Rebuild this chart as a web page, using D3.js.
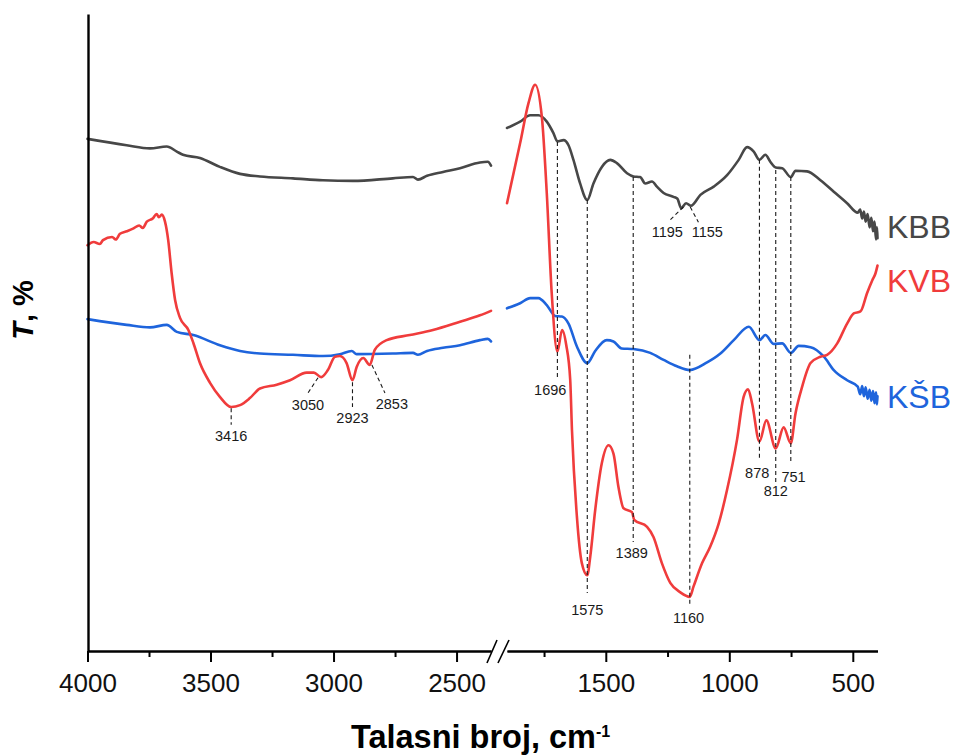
<!DOCTYPE html>
<html>
<head>
<meta charset="utf-8">
<script src="https://cdn.jsdelivr.net/npm/d3@7"></script>
<style>
  body { margin: 0; background: #fff; }
  svg { display: block; }
  text { font-family: "Liberation Sans", Arial, sans-serif; }
</style>
</head>
<body>
<svg id="chart" width="957" height="756"></svg>
<script>
// FTIR spectra: [wavenumber (cm-1), transmittance (offset, a.u.)]
const kbb = [
  [4000,80.4],[3841,79.4],[3746,78.9],[3678,79.2],[3637,78.4],[3612,77.9],[3543,77.4],[3462,76.0],
  [3380,74.9],[3299,74.5],[3165,74.2],[3043,73.9],[2921,73.8],[2759,74.2],[2677,74.4],[2657,74.0],
  [2620,74.6],[2555,75.2],[2486,75.8],[2405,76.7],[2373,76.8],[2360,76.2],
  [1900,82.1],[1847,83.1],[1806,84.1],[1773,84.1],[1739,83.1],[1712,81.3],[1696,80.0],[1671,80.2],
  [1651,79.4],[1631,77.1],[1604,73.4],[1575,70.8],[1550,73.4],[1516,76.0],[1482,77.1],[1455,76.6],
  [1414,75.0],[1388,74.5],[1361,74.4],[1340,73.4],[1313,73.7],[1293,72.9],[1266,71.9],[1226,71.3],
  [1210,71.0],[1195,69.5],[1175,70.3],[1155,69.9],[1117,71.6],[1063,72.9],[1009,74.7],[962,77.1],
  [928,79.1],[901,78.4],[878,77.1],[854,77.9],[834,76.8],[812,75.9],[786,75.8],[751,74.4],
  [732,75.4],[685,75.3],[631,73.9],[577,72.1],[523,70.3],[480,68.8],[470,69.3],[462,67.9],
  [455,69.0],[448,67.4],[440,68.6],[432,66.5],[425,68.0],[418,65.9],[412,67.4],[406,64.6],
  [402,66.5],[400,64.8]
];

const kvb = [
  [4000,63.7],[3975,64.2],[3950,63.9],[3937,64.5],[3900,65.0],[3885,64.6],[3868,65.5],[3840,65.9],
  [3815,66.3],[3790,66.8],[3775,66.4],[3759,67.4],[3735,67.9],[3719,68.6],[3710,68.1],[3698,68.5],
  [3685,67.4],[3672,64.5],[3658,59.3],[3644,55.1],[3624,52.3],[3590,50.4],[3570,48.4],[3543,45.2],
  [3502,42.1],[3462,39.9],[3416,38.3],[3380,38.6],[3340,39.7],[3299,41.2],[3231,41.8],[3177,42.5],
  [3109,43.7],[3080,43.7],[3050,43.0],[3023,44.1],[2994,46.2],[2974,46.3],[2947,45.2],[2923,42.5],
  [2906,44.6],[2879,46.0],[2853,44.9],[2832,47.3],[2784,48.8],[2690,49.6],[2596,50.4],[2486,51.7],
  [2405,52.7],[2360,53.4],
  [1900,70.3],[1847,79.7],[1813,86.0],[1786,88.9],[1759,83.9],[1739,71.9],[1719,56.2],[1696,47.0],
  [1677,50.4],[1660,48.0],[1644,42.5],[1637,34.7],[1617,21.1],[1597,13.8],[1575,11.9],[1563,14.8],
  [1543,22.1],[1516,29.5],[1489,32.3],[1469,31.0],[1449,25.8],[1428,22.4],[1394,21.8],[1385,20.6],
  [1333,19.5],[1307,17.9],[1273,13.8],[1239,10.7],[1198,9.2],[1160,8.5],[1145,10.1],[1110,13.8],
  [1077,16.4],[1043,20.0],[1009,25.3],[969,33.1],[942,39.9],[924,41.1],[908,38.9],[878,32.9],
  [850,36.2],[812,31.8],[780,35.1],[751,32.6],[732,37.3],[705,41.5],[671,45.2],[631,46.2],
  [604,46.5],[563,48.3],[523,51.4],[496,53.0],[469,53.3],[442,56.2],[421,58.2],[408,59.3],[400,60.5]
];

const ksb = [
  [4000,52.1],[3841,51.2],[3746,50.8],[3678,51.2],[3637,50.1],[3570,49.6],[3462,48.0],[3380,47.1],
  [3299,46.7],[3165,46.5],[3043,46.3],[2974,46.6],[2926,47.1],[2906,46.6],[2759,46.7],[2677,46.8],
  [2657,46.5],[2620,47.1],[2555,47.6],[2486,48.0],[2405,48.8],[2373,49.0],[2360,48.6],
  [1900,53.8],[1847,54.6],[1806,55.4],[1773,55.4],[1739,54.3],[1705,52.6],[1678,52.5],[1651,51.4],
  [1617,47.8],[1575,45.2],[1543,47.1],[1496,48.8],[1469,48.6],[1436,47.5],[1388,47.4],[1320,46.8],
  [1266,45.7],[1212,44.7],[1160,44.1],[1090,45.3],[1036,46.7],[982,48.8],[921,50.9],[878,48.8],
  [854,49.6],[820,48.2],[786,48.3],[751,46.8],[719,47.9],[671,47.7],[617,46.2],[577,44.1],
  [523,42.5],[480,41.5],[470,40.3],[462,41.6],[455,40.0],[448,41.4],[440,39.6],[432,41.0],
  [425,39.3],[418,40.8],[412,38.9],[406,40.6],[402,38.7],[400,40.0]
];

const seriesNames  = ["KBB", "KVB", "KŠB"];
const seriesColors = ["#474747", "#f03c3c", "#1e64dc"];
const seriesLabelT = [64.8, 56.4, 38.1];

const majorTicksLeft  = [4000, 3500, 3000, 2500];
const minorTicksLeft  = [3750, 3250, 2750];
const majorTicksRight = [1500, 1000, 500];
const minorTicksRight = [1750, 1250, 750];

// band assignments: dashed guide from (w1,t1) to (w2,t2), label centred at (lw,lt)
const peakMarks = [
  {label:"3416", w1:3416, t1:38.1, w2:3416, t2:35.5, lw:3416, lt:33.0},
  {label:"3050", w1:3063, t1:42.9, w2:3104, t2:40.5, lw:3104, lt:37.8},
  {label:"2923", w1:2923, t1:42.2, w2:2923, t2:38.3, lw:2923, lt:35.8},
  {label:"2853", w1:2844, t1:44.9, w2:2791, t2:40.5, lw:2763, lt:38.0},
  {label:"1696", w1:1696, t1:79.9, w2:1696, t2:42.9, lw:1725, lt:40.2},
  {label:"1575", w1:1575, t1:70.8, w2:1575, t2:9.1,  lw:1575, lt:5.7},
  {label:"1389", w1:1389, t1:74.4, w2:1389, t2:17.1, lw:1395, lt:14.6},
  {label:"1160", w1:1160, t1:46.5, w2:1160, t2:7.2,  lw:1165, lt:4.4},
  {label:"878",  w1:878,  t1:77.1, w2:878,  t2:30.0, lw:887,  lt:27.2},
  {label:"812",  w1:812,  t1:75.5, w2:812,  t2:26.4, lw:812,  lt:24.3},
  {label:"751",  w1:751,  t1:74.4, w2:751,  t2:29.5, lw:740,  lt:26.5},
  {label:"1195", w1:1186, t1:69.7, w2:1239, t2:67.7, lw:1251, lt:65.0},
  {label:"1155", w1:1158, t1:69.7, w2:1125, t2:67.3, lw:1089, lt:65.0}
];

const svg = d3.select("#chart");

// broken wavenumber axis: two linear pieces sharing one scale factor
const xLeft  = d3.scaleLinear().domain([4000, 2360]).range([87.5, 491]);
const xRight = d3.scaleLinear().domain([1900, 400]).range([507, 877.5]);
const y = d3.scaleLinear().domain([0, 100]).range([651, 14]);
const xOf = w => (w > 2100 ? xLeft(w) : xRight(w));

// spectra
const line = d3.line().x(d => xOf(d[0])).y(d => y(d[1])).curve(d3.curveMonotoneX);
const spectra = [kbb, kvb, ksb];
const drawOrder = [0, 2, 1];
const gLines = svg.append("g").attr("fill", "none").attr("stroke-width", 2.6)
  .attr("stroke-linejoin", "round").attr("stroke-linecap", "round");
drawOrder.forEach(i => {
  const data = spectra[i];
  [data.filter(d => d[0] > 2100), data.filter(d => d[0] <= 2100)].forEach(seg => {
    gLines.append("path").datum(seg).attr("d", line).attr("stroke", seriesColors[i]);
  });
});

// dashed band guides and labels
const gMarks = svg.append("g");
gMarks.selectAll("line").data(peakMarks).join("line")
  .attr("x1", d => xOf(d.w1)).attr("y1", d => y(d.t1))
  .attr("x2", d => xOf(d.w2)).attr("y2", d => y(d.t2))
  .attr("stroke", "#1a1a1a").attr("stroke-width", 1.1).attr("stroke-dasharray", "4,3");
gMarks.selectAll("text").data(peakMarks).join("text")
  .attr("x", d => xOf(d.lw)).attr("y", d => y(d.lt))
  .attr("text-anchor", "middle").attr("font-size", 14.5).attr("fill", "#1a1a1a")
  .text(d => d.label);

// series names at the right end of each spectrum
svg.append("g").selectAll("text").data(seriesNames).join("text")
  .attr("x", 887).attr("y", (d, i) => y(seriesLabelT[i]))
  .attr("font-size", 32).attr("fill", (d, i) => seriesColors[i])
  .text(d => d);

// axes
function styleAxis(g) {
  g.select(".domain").attr("stroke", "#000").attr("stroke-width", 2);
  g.selectAll(".tick line").attr("stroke", "#000").attr("stroke-width", 2);
  g.selectAll(".tick text").attr("font-size", 26).attr("fill", "#111")
    .attr("font-family", '"Liberation Sans", Arial, sans-serif');
}
[[xLeft, majorTicksLeft, minorTicksLeft], [xRight, majorTicksRight, minorTicksRight]].forEach(([sc, major, minor]) => {
  svg.append("g").attr("transform", "translate(0,651)")
    .call(d3.axisBottom(sc).tickValues(minor).tickSize(6).tickSizeOuter(0).tickFormat(""))
    .call(styleAxis);
  svg.append("g").attr("transform", "translate(0,651)")
    .call(d3.axisBottom(sc).tickValues(major).tickSize(11).tickSizeOuter(0).tickPadding(12).tickFormat(d3.format("d")))
    .call(styleAxis);
});
svg.append("g").attr("transform", "translate(88,0)")
  .call(d3.axisLeft(y).tickValues([]).tickSizeOuter(0))
  .call(g => g.select(".domain").attr("stroke", "#000").attr("stroke-width", 2.4));

// axis break marks
const gBreak = svg.append("g").attr("stroke", "#000").attr("stroke-width", 1.6);
[[487, 497], [498, 509]].forEach(([a, b]) => {
  gBreak.append("line").attr("x1", a).attr("y1", 663).attr("x2", b).attr("y2", 640);
});

// axis titles
const xTitle = svg.append("text").attr("x", 351).attr("y", 748)
  .attr("font-size", 32.5).attr("font-weight", "bold").attr("fill", "#000");
xTitle.append("tspan").text("Talasni broj, cm");
xTitle.append("tspan").attr("font-size", 16).attr("dy", -11).text("-1");

const yTitle = svg.append("text").attr("transform", "translate(33,310) rotate(-90)")
  .attr("text-anchor", "middle").attr("font-size", 29).attr("font-weight", "bold").attr("fill", "#000");
yTitle.append("tspan").attr("font-style", "italic").text("T");
yTitle.append("tspan").text(", %");
</script>
</body>
</html>
